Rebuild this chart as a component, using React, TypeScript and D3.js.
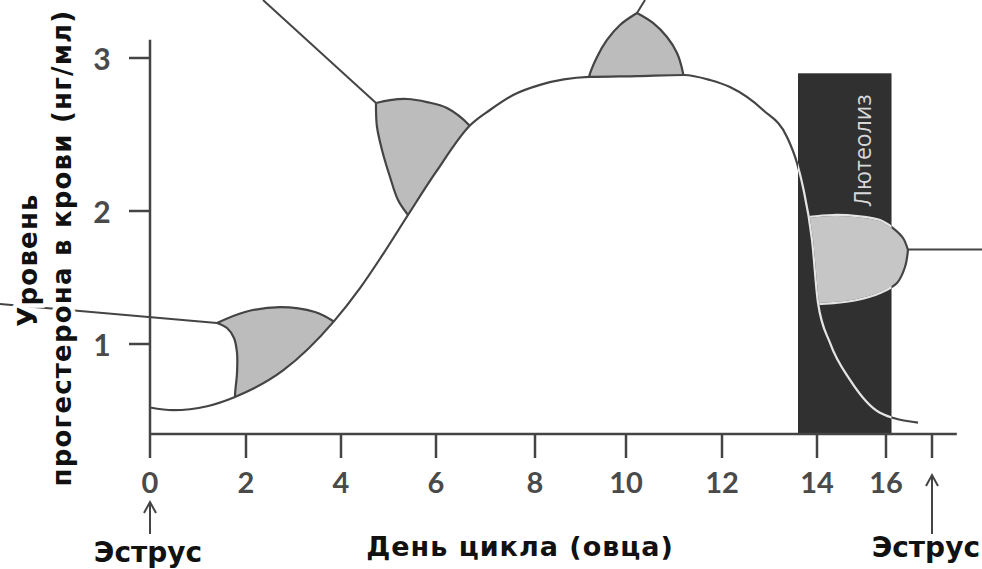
import React from "react";
import * as d3 from "d3";

// ---------- data ----------
// progesterone curve: [day of cycle, ng/ml]
const progesteroneCurve: [number, number][] = [
  [0, 0.52], [0.48, 0.5], [1.19, 0.53], [1.77, 0.6], [2.78, 0.8], [3.85, 1.17],
  [4.4, 1.42], [4.86, 1.662], [5.41, 1.97], [6.0, 2.255], [6.69, 2.56], [7.09, 2.66],
  [7.56, 2.758], [8.11, 2.824], [9.19, 2.876], [10.23, 2.882], [11.21, 2.889],
  [11.75, 2.856], [12.168, 2.81], [12.863, 2.66], [13.368, 2.484], [13.579, 2.314],
  [13.705, 2.157], [13.895, 1.782], [14.03, 1.308], [14.377, 1.008],
  [14.957, 0.729], [15.826, 0.481], [16.696, 0.406],
];

const xTickDays = [0, 2, 4, 6, 8, 10, 12, 14, 16];
const xTickLabels = ["0", "2", "4", "6", "8", "10", "12", "14", "16"];
const yTickValues = [1, 2, 3];
const yTickLabels = ["1", "2", "3"];
const estrusDays = [0, 17];
const luteolysis = { start: 13.6, end: 16.12, top: 2.9 };
const luteolysisLabel = "Лютеолиз";
const xTitle = "День цикла (овца)";
const yTitleLines = ["Уровень", "прогестерона в крови (нг/мл)"];
const estrusLabel = "Эструс";

// corpus luteum stages (outline edges in [day, ng/ml])
const blobEarly: [number, number][][] = [
  [[1.396, 1.158], [1.979, 1.241], [2.716, 1.278], [3.453, 1.241], [3.832, 1.173], [4.189, 1.068]],
  [[4.189, 1.068], [3.137, 0.429]],
  [[3.137, 0.429], [1.875, 0.429]],
  [[1.875, 0.429], [1.792, 0.541]],
  [[1.792, 0.541], [1.771, 0.602], [1.813, 0.782], [1.813, 0.932], [1.75, 1.045], [1.604, 1.12], [1.396, 1.158]],
];
const blobGrowing: [number, number][][] = [
  [[4.737, 2.706], [5.032, 2.725], [5.389, 2.732], [5.811, 2.712], [6.222, 2.673], [6.687, 2.556], [6.889, 2.464]],
  [[6.889, 2.464], [5.874, 1.857]],
  [[5.874, 1.857], [5.495, 1.82]],
  [[5.495, 1.82], [5.411, 1.97]],
  [[5.411, 1.97], [5.2, 2.072], [5.032, 2.222], [4.863, 2.399], [4.758, 2.549], [4.737, 2.66], [4.737, 2.706]],
];
const blobMature: [number, number][][] = [
  [[10.229, 3.294], [10.5625, 3.229], [10.854, 3.137], [11.0625, 3.033], [11.1875, 2.902], [11.229, 2.791]],
  [[11.229, 2.791], [9.165, 2.791]],
  [[9.165, 2.791], [9.187, 2.876], [9.363, 3.007], [9.582, 3.118], [9.868, 3.216], [10.229, 3.294]],
];
const blobRegressing: [number, number][][] = [
  [[13.811, 1.955], [14.464, 1.97], [15.159, 1.962], [15.826, 1.932], [16.152, 1.872], [16.37, 1.797], [16.478, 1.707]],
  [[16.478, 1.707], [16.413, 1.579], [16.239, 1.459], [15.826, 1.383], [15.159, 1.331], [14.464, 1.308], [14.029, 1.301], [13.642, 1.286]],
  [[13.642, 1.286], [13.537, 1.962]],
  [[13.537, 1.962], [13.811, 1.955]],
];

// leader lines [from, to]
const leaders: [number, number][][] = [
  [[-3.125, 1.301], [1.396, 1.158]],
  [[2.358, 3.379], [4.737, 2.706]],
  [[10.229, 3.294], [10.396, 3.379]],
  [[16.478, 1.71], [18.2, 1.71]],
];

const yAxisTopValue = 3.12;
const xAxisEndDay = 17.54;

// ---------- layout ----------
const W = 982;
const H = 569;
const xScale = d3
  .scaleLinear()
  .domain([0, 2, 4, 6, 8, 10, 12, 14, 16, 17])
  .range([150, 246, 341, 436, 535, 626, 722, 817, 886, 932]);
const yScale = d3.scaleLinear().domain([0.32, 1, 2, 3]).range([434, 344, 211, 58]);

const AXIS_Y = yScale(0.32);
const DARK = "#444";
const FONT_TITLE = "'DejaVu Sans', Verdana, sans-serif";
const FONT_NUM = "Lato, 'Open Sans', sans-serif";

const curveLine = d3
  .line<[number, number]>()
  .x((d) => xScale(d[0]))
  .y((d) => yScale(d[1]))
  .curve(d3.curveMonotoneX);
const areaAbove = d3
  .area<[number, number]>()
  .x((d) => xScale(d[0]))
  .y0(-100)
  .y1((d) => yScale(d[1]))
  .curve(d3.curveMonotoneX);
const edgeLine = d3
  .line<[number, number]>()
  .x((d) => xScale(d[0]))
  .y((d) => yScale(d[1]))
  .curve(d3.curveCatmullRom.alpha(0.5));

function blobPath(edges: [number, number][][]): string {
  return (
    edges
      .map((e, i) => {
        const s = edgeLine(e) || "";
        return i === 0 ? s : "L" + s.slice(1);
      })
      .join("") + "Z"
  );
}

export default function App() {
  const curveD = curveLine(progesteroneCurve) || "";
  const aboveD = areaAbove(progesteroneCurve) || "";
  const lx0 = xScale(luteolysis.start);
  const lx1 = xScale(luteolysis.end);
  const ly0 = yScale(luteolysis.top);

  const greyBlobs = [blobEarly, blobGrowing, blobMature];

  return (
    <svg
      width={W}
      height={H}
      viewBox={`0 0 ${W} ${H}`}
      style={{ position: "absolute", left: 0, top: 0, background: "#fff" }}
    >
      <defs>
        <clipPath id="aboveCurve">
          <path d={aboveD} />
        </clipPath>
        <clipPath id="lutealClip">
          <rect x={lx0} y={ly0} width={lx1 - lx0} height={AXIS_Y - ly0} />
        </clipPath>
      </defs>
      <rect x={0} y={0} width={W} height={H} fill="#fff" />

      {/* luteolysis band */}
      <rect x={lx0} y={ly0} width={lx1 - lx0} height={AXIS_Y - ly0} fill="#303030" />
      <text
        transform={`translate(${(lx0 + lx1) / 2 + 26},${ly0 + 77}) rotate(-90)`}
        textAnchor="middle"
        fontFamily="'Open Sans', sans-serif"
        fontSize={23}
        fill="#d8d8d8"
      >
        {luteolysisLabel}
      </text>

      {/* leader lines */}
      {leaders.map((l, i) => (
        <line
          key={"ld" + i}
          x1={xScale(l[0][0])}
          y1={yScale(l[0][1])}
          x2={xScale(l[1][0])}
          y2={yScale(l[1][1])}
          stroke={DARK}
          strokeWidth={2}
        />
      ))}

      {/* corpus luteum shapes */}
      <g clipPath="url(#aboveCurve)">
        {greyBlobs.map((b, i) => (
          <path key={"b" + i} d={blobPath(b)} fill="#bcbcbc" stroke={DARK} strokeWidth={2.2} strokeLinejoin="round" />
        ))}
        <path d={blobPath(blobRegressing)} fill="#c6c6c6" stroke={DARK} strokeWidth={2.2} strokeLinejoin="round" />
        <path
          d={blobPath(blobRegressing)}
          fill="none"
          stroke="#e4e4e4"
          strokeWidth={2.2}
          clipPath="url(#lutealClip)"
        />
      </g>

      {/* progesterone curve */}
      <path d={curveD} fill="none" stroke={DARK} strokeWidth={2.2} />
      <path d={curveD} fill="none" stroke="#e4e4e4" strokeWidth={2.2} clipPath="url(#lutealClip)" />

      {/* axes */}
      <line x1={xScale(0)} y1={yScale(yAxisTopValue)} x2={xScale(0)} y2={AXIS_Y} stroke={DARK} strokeWidth={2.5} />
      <line x1={xScale(0) - 1} y1={AXIS_Y} x2={xScale(xAxisEndDay)} y2={AXIS_Y} stroke={DARK} strokeWidth={2.5} />
      {xTickDays.map((d) => (
        <line key={"xt" + d} x1={xScale(d)} x2={xScale(d)} y1={AXIS_Y} y2={AXIS_Y + 24} stroke={DARK} strokeWidth={2.5} />
      ))}
      <line x1={xScale(17)} x2={xScale(17)} y1={AXIS_Y} y2={AXIS_Y + 24} stroke={DARK} strokeWidth={2.5} />
      {xTickDays.map((d, i) => (
        <text
          key={"xl" + d}
          x={xScale(d)}
          y={493}
          textAnchor="middle"
          fontFamily={FONT_NUM}
          fontWeight={700}
          fontSize={29}
          fill="#4a4a4a"
        >
          {xTickLabels[i]}
        </text>
      ))}
      {yTickValues.map((v) => (
        <line key={"yt" + v} x1={xScale(0) - 21} x2={xScale(0)} y1={yScale(v)} y2={yScale(v)} stroke={DARK} strokeWidth={2.5} />
      ))}
      {yTickValues.map((v, i) => (
        <text
          key={"yl" + v}
          x={xScale(0) - 48}
          y={yScale(v) + 12}
          textAnchor="middle"
          fontFamily={FONT_NUM}
          fontWeight={700}
          fontSize={30}
          fill="#4a4a4a"
        >
          {yTickLabels[i]}
        </text>
      ))}

      {/* estrus arrows */}
      {estrusDays.map((d, i) => {
        const ax = xScale(d);
        const top = i === 0 ? 502 : 475;
        return (
          <g key={"ar" + d} stroke={DARK} strokeWidth={2} fill="none">
            <line x1={ax} x2={ax} y1={top} y2={534} />
            <polyline points={`${ax - 6},${top + 11} ${ax},${top} ${ax + 6},${top + 11}`} />
          </g>
        );
      })}
      <text x={xScale(0) - 2} y={562} textAnchor="middle" fontFamily={FONT_TITLE} fontWeight={700} fontSize={28} fill="#111">
        {estrusLabel}
      </text>
      <text x={W - 2} y={557} textAnchor="end" fontFamily={FONT_TITLE} fontWeight={700} fontSize={28} fill="#111">
        {estrusLabel}
      </text>

      {/* axis titles */}
      <text x={520} y={556} textAnchor="middle" fontFamily={FONT_TITLE} fontWeight={700} fontSize={27} letterSpacing={1} fill="#111">
        {xTitle}
      </text>
      <g fontFamily={FONT_TITLE} fontWeight={700} fontSize={26} letterSpacing={1.2} fill="#111" stroke="#fff" strokeWidth={9} style={{ paintOrder: "stroke" }} strokeLinejoin="round">
        <text transform={`translate(37,260) rotate(-90)`} textAnchor="middle">
          {yTitleLines[0]}
        </text>
        <text transform={`translate(71,248) rotate(-90)`} textAnchor="middle">
          {yTitleLines[1]}
        </text>
      </g>
    </svg>
  );
}
